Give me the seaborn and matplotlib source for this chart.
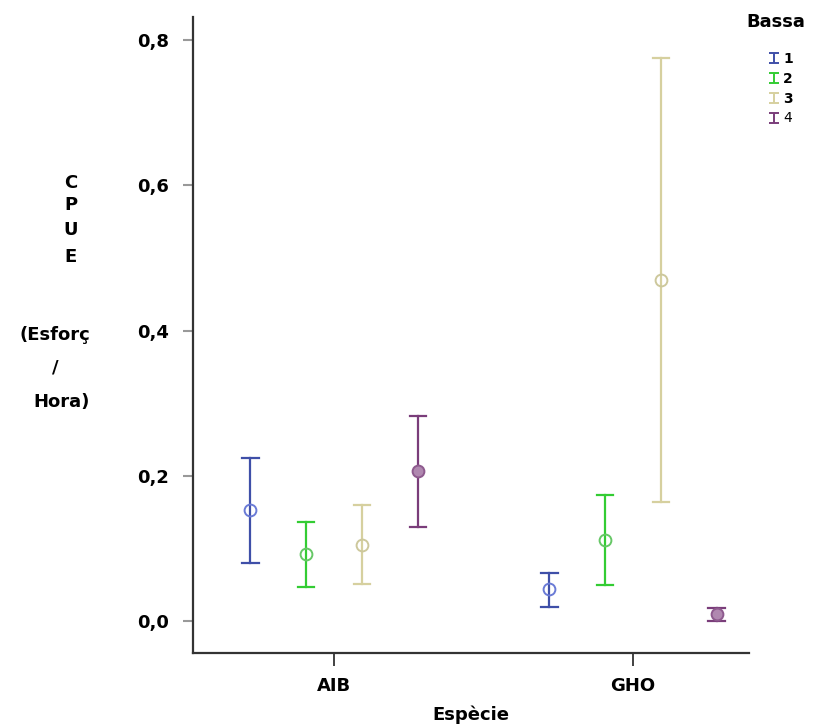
import numpy as np
import pandas as pd
import matplotlib
matplotlib.use("Agg")
import matplotlib.pyplot as plt
import seaborn as sns
from matplotlib.path import Path
from matplotlib.lines import Line2D

# ---- data ----
species = ["AIB", "GHO"]
bassa = ["1", "2", "3", "4"]
mean_aib = [0.153, 0.092, 0.105, 0.207]
lower_aib = [0.080, 0.047, 0.051, 0.130]
upper_aib = [0.224, 0.136, 0.160, 0.282]
mean_gho = [0.044, 0.112, 0.470, 0.0095]
lower_gho = [0.020, 0.050, 0.164, 0.000]
upper_gho = [0.066, 0.174, 0.776, 0.0175]
yticks = [0.0, 0.2, 0.4, 0.6, 0.8]
ytick_labels = ["0,0", "0,2", "0,4", "0,6", "0,8"]

line_colors = ["#3f4fa8", "#33cc33", "#d6d09f", "#7a3d7a"]
marker_edge = ["#6a7bd6", "#66c766", "#cdc89c", "#8e5a8e"]
marker_face = ["none", "none", "none", "#b088b0"]

rows = []
for sp, means, los, his in [("AIB", mean_aib, lower_aib, upper_aib),
                            ("GHO", mean_gho, lower_gho, upper_gho)]:
    for b, m, lo, hi in zip(bassa, means, los, his):
        for v in (lo, m, hi):
            rows.append({"Espècie": sp, "Bassa": b, "CPUE": v})
df = pd.DataFrame(rows)

fig = plt.figure(figsize=(8.19, 7.24), dpi=100)
ax = fig.add_axes([193 / 819, 1 - 653 / 724, (749 - 193) / 819, (653 - 17) / 724])

sns.pointplot(data=df, x="Espècie", y="CPUE", hue="Bassa", order=species,
              hue_order=bassa, estimator="median", errorbar=("pi", 100),
              dodge=0.56, linestyle="none", capsize=0.055,
              palette=line_colors, markers="o", err_kws={"linewidth": 1.6},
              legend=False, ax=ax)

# style the point markers (open circles)
pts = [l for l in ax.lines if l.get_marker() == "o"]
for i, l in enumerate(pts):
    l.set_markersize(8.5)
    l.set_markeredgewidth(1.4)
    l.set_markeredgecolor(marker_edge[i])
    l.set_markerfacecolor(marker_face[i])
    l.set_zorder(5)

ax.set_xlim(-0.472, 1.388)
ax.set_ylim(-0.044, 0.832)
ax.set_yticks(yticks)
ax.set_yticklabels(ytick_labels)
for s in ["top", "right"]:
    ax.spines[s].set_visible(False)
for s in ["left", "bottom"]:
    ax.spines[s].set_color("#333333")
    ax.spines[s].set_linewidth(1.6)
ax.tick_params(axis="y", length=7, width=1.5, color="#999999", pad=10,
               labelsize=13)
ax.tick_params(axis="x", length=9, width=1.3, color="#333333", pad=8,
               labelsize=13)
for t in ax.get_xticklabels() + ax.get_yticklabels():
    t.set_fontweight("bold")
ax.set_xlabel("Espècie", fontsize=13, fontweight="bold", labelpad=8)
ax.set_ylabel("")

# stacked y-axis label
for txt, x, y in [("C", 71, 183), ("P", 71, 205), ("U", 71, 230), ("E", 71, 257),
                  ("(Esforç", 55, 335), ("/", 55, 368), ("Hora)", 62, 402)]:
    fig.text(x / 819, 1 - y / 724, txt, ha="center", va="center",
             fontsize=13, fontweight="bold")

# legend
fig.text(776 / 819, 1 - 22 / 724, "Bassa", ha="center", va="center",
         fontsize=13, fontweight="bold")
ibar = Path([(-1, -1), (1, -1), (0, -1), (0, 1), (-1, 1), (1, 1)],
            [Path.MOVETO, Path.LINETO, Path.MOVETO, Path.LINETO,
             Path.MOVETO, Path.LINETO])
handles = [Line2D([], [], linestyle="none", marker=ibar, markersize=7,
                  markeredgewidth=1.4, color=c, markeredgecolor=c)
           for c in line_colors]
leg = fig.legend(handles, bassa, loc="upper left",
                 bbox_to_anchor=(761 / 819, 1 - 45 / 724), frameon=False,
                 handlelength=0.8, handletextpad=0.3, labelspacing=0.42,
                 borderpad=0, fontsize=10)
for i, t in enumerate(leg.get_texts()):
    t.set_fontweight("bold" if i < 3 else "normal")

fig.savefig("out.png", dpi=100)
